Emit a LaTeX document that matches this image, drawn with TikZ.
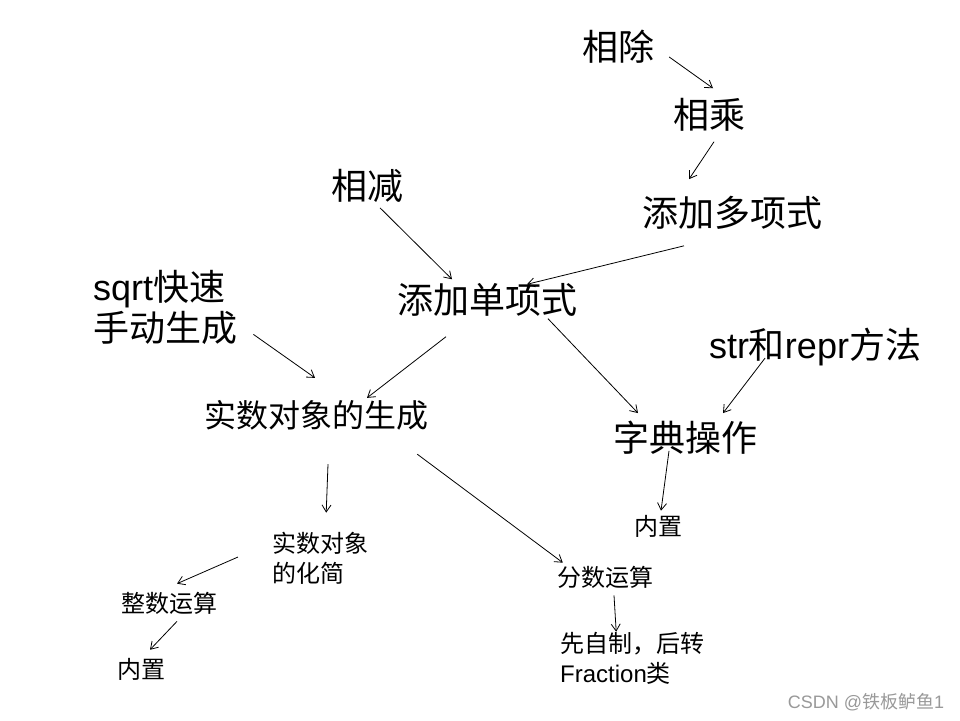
\documentclass[tikz,border=0pt]{standalone}
\usepackage{fontspec}
\setmainfont{Liberation Sans}
\newfontfamily\cjk{Noto Sans CJK SC}
\usetikzlibrary{arrows.meta,calc}
\tikzset{
  big/.style={inner sep=0pt,font=\fontsize{36}{41}\selectfont\cjk,align=left},
  mixbig/.style={inner sep=0pt,font=\fontsize{36}{41}\selectfont,align=left},
  mid/.style={inner sep=0pt,font=\fontsize{32}{38}\selectfont\cjk},
  small/.style={inner sep=0pt,font=\fontsize{24}{30}\selectfont\cjk,align=left},
  arr/.style={line width=0.8pt,-{Straight Barb[length=7pt,width=9pt]}}
}
\begin{document}
\begin{tikzpicture}[x=1pt,y=-1pt]
\fill[white] (0,0) rectangle (960,720);
\useasboundingbox (0,0) rectangle (960,720);
\node[big] (xiangchu) at (618,47) {相除};
\node[big] (xiangcheng) at (709,115) {相乘};
\node[big] (duoxiang) at (732,213) {添加多项式};
\node[big] (xiangjian) at (367,186) {相减};
\node[big] (danxiang) at (487,300) {添加单项式};
\node[mixbig,anchor=west] (sqrtgen) at (93,307) {sqrt{\cjk 快速}\\{\cjk 手动生成}};
\node[mixbig] (strrepr) at (815,347) {str{\cjk 和}repr{\cjk 方法}};
\node[mid] (shengcheng) at (316,415) {实数对象的生成};
\node[big] (zidian) at (685,438) {字典操作};
\node[small] (neizhiB) at (658,526) {内置};
\node[small,anchor=west] (huajian) at (272,558) {实数对象\\的化简};
\node[small] (zhengshu) at (169,603) {整数运算};
\node[small] (neizhiA) at (141,669) {内置};
\node[small] (fenshu) at (605,577) {分数运算};
\node[small,anchor=west] (fraction) at (560,658) {先自制，后转\\{\rmfamily Fraction}类};
\node[inner sep=0pt,text=gray!80,font=\fontsize{18}{18}\selectfont] (mark) at (866,702) {CSDN @{\cjk 铁板鲈鱼}1};
\draw[arr] ($(xiangchu.east)+(15,10)$) -- ($(xiangcheng.north)+(4,-10)$);
\draw[arr] ($(xiangcheng.south)+(5,10)$) -- ($(duoxiang.north)+(-43,-17)$);
\draw[arr] ($(xiangjian.south)+(13,5)$) -- ($(danxiang.north)+(-35,-4)$);
\draw[arr] ($(duoxiang.south)+(-48,16)$) -- ($(danxiang.north)+(40,1)$);
\draw[arr] ($(sqrtgen.south east)+(16,-10)$) -- ($(shengcheng.north)+(-1,-22)$);
\draw[arr] ($(danxiang.south)+(-41,20)$) -- ($(shengcheng.north)+(51,-2)$);
\draw[arr] ($(danxiang.south)+(61,2)$) -- ($(zidian.north)+(-47,-8)$);
\draw[arr] ($(strrepr.south)+(-50,-8)$) -- ($(zidian.north)+(38,-8)$);
\draw[arr] ($(zidian.south)+(-16,-4)$) -- ($(neizhiB.north)+(3,-4)$);
\draw[arr] ($(shengcheng.south)+(12,34)$) -- ($(huajian.north)+(6,-19)$);
\draw[arr] ($(shengcheng.south east)+(-11,24)$) -- ($(fenshu.north west)+(6,-3)$);
\draw[arr] ($(huajian.west)+(-34,-1)$) -- ($(zhengshu.north)+(8,-8)$);
\draw[arr] ($(zhengshu.south)+(8,7)$) -- ($(neizhiA.north)+(9,-8)$);
\draw[arr] ($(fenshu.south)+(9,7)$) -- ($(fraction.north)+(-16,0)$);
\end{tikzpicture}
\end{document}
